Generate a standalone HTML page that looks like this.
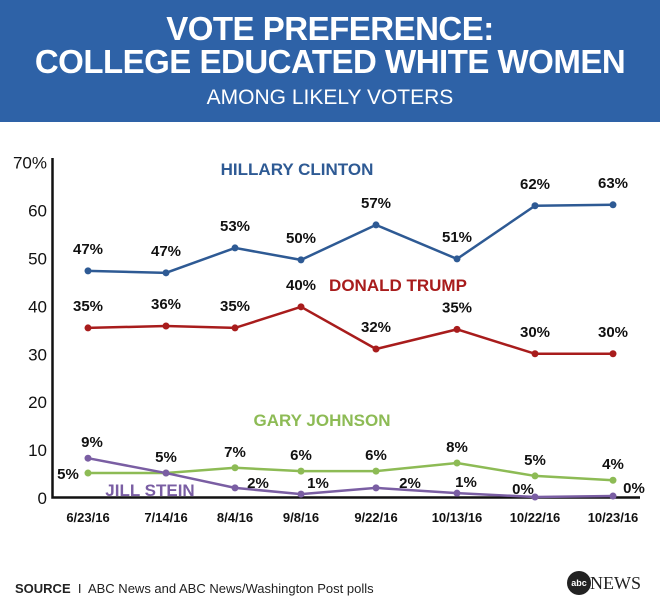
<!DOCTYPE html>
<html><head><meta charset="utf-8"><style>
body{margin:0;width:660px;height:608px;background:#fff;font-family:"Liberation Sans",sans-serif;overflow:hidden}
#hdr{position:absolute;left:0;top:0;width:660px;height:122px;background:#2e62a7;color:#fff;text-align:center}
.t{font-weight:bold;font-size:33px;line-height:33px;letter-spacing:-0.5px}
</style></head><body>
<div id="hdr">
<div class="t" style="position:absolute;top:12px;width:660px">VOTE PREFERENCE:</div>
<div class="t" style="position:absolute;top:45px;width:660px">COLLEGE EDUCATED WHITE WOMEN</div>
<div style="position:absolute;top:86px;width:660px;font-size:21px">AMONG LIKELY VOTERS</div>
</div>
<svg id="c" width="660" height="608" style="position:absolute;left:0;top:0"></svg>
<div style="position:absolute;left:15px;top:581px;font-size:13px;color:#222"><b>SOURCE</b> &nbsp;I&nbsp; ABC News and ABC News/Washington Post polls</div>
<div style="position:absolute;left:567px;top:571px;width:24px;height:24px;border-radius:50%;background:#222;color:#fff;font-size:9px;font-weight:bold;line-height:24px;text-align:center">abc</div>
<div style="position:absolute;left:590px;top:573px;font-family:'Liberation Serif',serif;font-size:18px;color:#222">NEWS</div>
<script>
const dates=["6/23/16","7/14/16","8/4/16","9/8/16","9/22/16","10/13/16","10/22/16","10/23/16"];
const clinton=[47.2,46.8,52,49.5,56.8,49.7,60.8,61];
const clintonLabels=[47,47,53,50,57,51,62,63];
const trump=[35.3,35.7,35.3,39.7,30.9,35,29.9,29.9];
const trumpLabels=[35,36,35,40,32,35,30,30];
const johnson=[5,5,6.1,5.4,5.4,7.1,4.4,3.5];
const johnsonLabels=[5,5,7,6,6,8,5,4];
const stein=[8.1,5,1.9,0.6,1.9,0.8,0,0.2];
const steinLabels=[9,null,2,1,2,1,0,0];
const yTicks=[0,10,20,30,40,50,60,70];
const xPos=[88,166,235,301,376,457,535,613];
const svg=document.getElementById('c');const NS="http://www.w3.org/2000/svg";
function y(v){return 497-4.79*v;}
function x(i){return xPos[i];}
function mk(t,a,p){const e=document.createElementNS(NS,t);for(const k in a)e.setAttribute(k,a[k]);(p||svg).appendChild(e);return e;}
function txt(s,a){const e=mk('text',Object.assign({'font-family':'Liberation Sans, sans-serif'},a));e.textContent=s;return e;}
let ax=mk('path',{d:'M52.5 158 V497.5 H640',stroke:'#111','stroke-width':2.5,fill:'none'});


yTicks.forEach(v=>{let t=txt(v===70?'70%':String(v),{x:47,y:y(v)+7,'text-anchor':'end','font-size':17,fill:'#111'});

});
dates.forEach((d,i)=>{let t=txt(d,{x:x(i),y:522,'text-anchor':'middle','font-size':13,'font-weight':'bold',fill:'#111'});

});
function series(vals,labs,col,name,labOff){
 let d=vals.map((v,i)=>(i?'L':'M')+x(i)+' '+y(v)).join(' ');
 let p=mk('path',{d:d,stroke:col,'stroke-width':2.5,fill:'none'});
 
 
 vals.forEach((v,i)=>{let c=mk('circle',{cx:x(i),cy:y(v),r:3.5,fill:col});
 
 
 if(labs[i]===null)return;
 let o=labOff(i);let t=txt(labs[i]+'%',{x:x(i)+o[0],y:y(v)+o[1],'text-anchor':'middle','font-size':15,'font-weight':'bold',fill:'#111'});
 
 });
}
series(clinton,clintonLabels,'#2e5a94','clinton',i=>[0,-17]);
series(trump,trumpLabels,'#a81c1c','trump',i=>[0,-17]);
series(johnson,johnsonLabels,'#8dbb55','johnson',i=>i===0?[-20,6]:[0,-11]);
series(stein,steinLabels,'#7a5ea3','stein',i=>i===0?[4,-11]:(i>=6?[[0,0,0,0,0,0,-12,21][i],-3]:[[0,0,23,17,34,9][i],i===3||i===5?-6:0]));
const labs=[['HILLARY CLINTON',297,175,'#2e5a94','clinton-series-label'],['DONALD TRUMP',398,291,'#a81c1c','trump-series-label'],['GARY JOHNSON',322,426,'#8dbb55','johnson-series-label'],['JILL STEIN',150,496,'#7a5ea3','stein-series-label']];
labs.forEach(l=>{let t=txt(l[0],{x:l[1],y:l[2],'text-anchor':'middle','font-size':17,'font-weight':'bold',fill:l[3]});

});
</script>
</body></html>
